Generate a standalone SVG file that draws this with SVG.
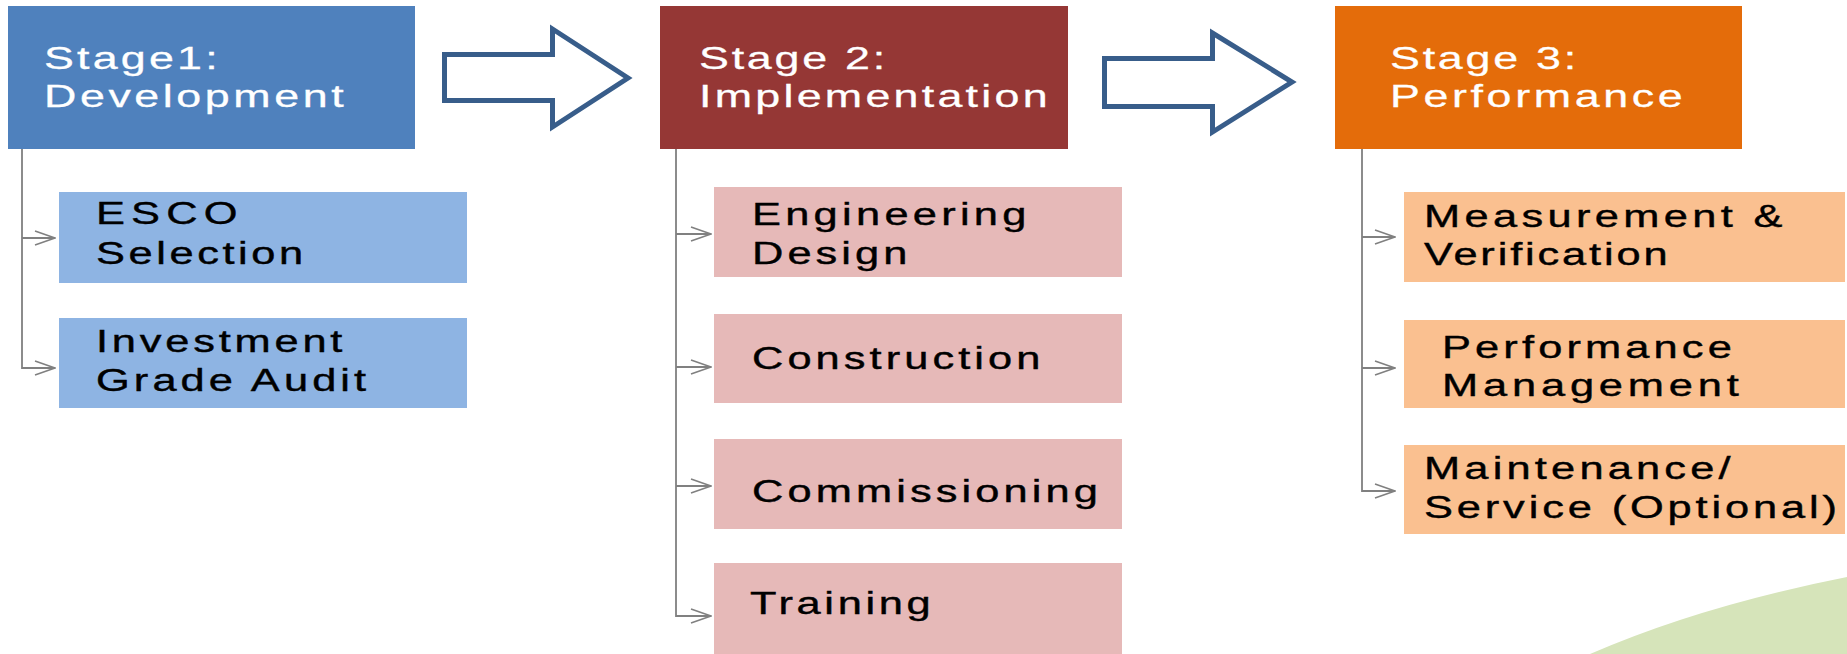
<svg xmlns="http://www.w3.org/2000/svg" width="1847" height="654" viewBox="0 0 1847 654">
  <style>
    .stage-text { font-family: "Liberation Sans", Arial, sans-serif; font-size: 32px; fill: #FFFFFF; stroke: #FFFFFF; stroke-width: 0.3; }
    .task-text { font-family: "Liberation Sans", Arial, sans-serif; font-size: 31px; fill: #000000; stroke: #000000; stroke-width: 0.4; }
    .blue-task { fill: #8EB4E3; }
    .red-task { fill: #E6B9B8; }
    .orange-task { fill: #FAC090; }
    .branch { fill: none; stroke: #808080; stroke-width: 1.8; }
    .block-arrow { fill: #FFFFFF; stroke: #385D8A; stroke-width: 5; stroke-linejoin: miter; }
  </style>
  <defs>
    <marker id="chevron" viewBox="0 0 22 16" markerWidth="22" markerHeight="16" refX="21" refY="8" markerUnits="userSpaceOnUse" orient="auto">
      <path d="M1,1 L21,8 L1,15" fill="none" stroke="#808080" stroke-width="1.6"/>
    </marker>
  </defs>

  <!-- decorative swoosh in the lower right corner -->
  <path d="M1590,654 Q1700,606 1847,577 L1847,654 Z" fill="#D6E4BA"/>

  <!-- connectors: stage-to-stage block arrows and task branches -->
  <g id="connectors">
    <path class="block-arrow" d="M444.5,54.5 H552.5 V29 L628,78 L552.5,127 V100.5 H444.5 Z"/>
    <path class="block-arrow" d="M1104.5,58.5 H1212.5 V33 L1292,82 L1212.5,132 V106.5 H1104.5 Z"/>

    <path class="branch" d="M22,149 V368 H55" marker-end="url(#chevron)"/>
    <path class="branch" d="M22,238 H55" marker-end="url(#chevron)"/>

    <path class="branch" d="M676,149 V616 H711" marker-end="url(#chevron)"/>
    <path class="branch" d="M676,234 H711" marker-end="url(#chevron)"/>
    <path class="branch" d="M676,367 H711" marker-end="url(#chevron)"/>
    <path class="branch" d="M676,486 H711" marker-end="url(#chevron)"/>

    <path class="branch" d="M1362,149 V491 H1395" marker-end="url(#chevron)"/>
    <path class="branch" d="M1362,237 H1395" marker-end="url(#chevron)"/>
    <path class="branch" d="M1362,368 H1395" marker-end="url(#chevron)"/>
  </g>

  <!-- Stage 1 -->
  <g id="stage1">
    <rect x="8" y="6" width="407" height="143" fill="#4F81BD"/>
    <text class="stage-text" transform="matrix(1.4 0 0 1 44 69)" textLength="124" lengthAdjust="spacing">Stage1:</text>
    <text class="stage-text" transform="matrix(1.4 0 0 1 44 107)" textLength="214" lengthAdjust="spacing">Development</text>
  </g>
  <g id="esco-selection">
    <rect class="blue-task" x="59" y="192" width="408" height="91"/>
    <text class="task-text" transform="matrix(1.4 0 0 1 96 224)" textLength="101" lengthAdjust="spacing">ESCO</text>
    <text class="task-text" transform="matrix(1.4 0 0 1 96 264)" textLength="148" lengthAdjust="spacing">Selection</text>
  </g>
  <g id="investment-grade-audit">
    <rect class="blue-task" x="59" y="318" width="408" height="90"/>
    <text class="task-text" transform="matrix(1.4 0 0 1 96 352)" textLength="176" lengthAdjust="spacing">Investment</text>
    <text class="task-text" transform="matrix(1.4 0 0 1 96 391)" textLength="193" lengthAdjust="spacing">Grade Audit</text>
  </g>

  <!-- Stage 2 -->
  <g id="stage2">
    <rect x="660" y="6" width="408" height="143" fill="#953735"/>
    <text class="stage-text" transform="matrix(1.4 0 0 1 699 69)" textLength="133" lengthAdjust="spacing">Stage 2:</text>
    <text class="stage-text" transform="matrix(1.4 0 0 1 699 107)" textLength="249" lengthAdjust="spacing">Implementation</text>
  </g>
  <g id="engineering-design">
    <rect class="red-task" x="714" y="187" width="408" height="90"/>
    <text class="task-text" transform="matrix(1.4 0 0 1 752 225)" textLength="196" lengthAdjust="spacing">Engineering</text>
    <text class="task-text" transform="matrix(1.4 0 0 1 752 264)" textLength="111" lengthAdjust="spacing">Design</text>
  </g>
  <g id="construction">
    <rect class="red-task" x="714" y="314" width="408" height="89"/>
    <text class="task-text" transform="matrix(1.4 0 0 1 752 369)" textLength="206" lengthAdjust="spacing">Construction</text>
  </g>
  <g id="commissioning">
    <rect class="red-task" x="714" y="439" width="408" height="90"/>
    <text class="task-text" transform="matrix(1.4 0 0 1 752 502)" textLength="247" lengthAdjust="spacing">Commissioning</text>
  </g>
  <g id="training">
    <rect class="red-task" x="714" y="563" width="408" height="100"/>
    <text class="task-text" transform="matrix(1.4 0 0 1 750 614)" textLength="129" lengthAdjust="spacing">Training</text>
  </g>

  <!-- Stage 3 -->
  <g id="stage3">
    <rect x="1335" y="6" width="407" height="143" fill="#E46C0A"/>
    <text class="stage-text" transform="matrix(1.4 0 0 1 1390 69)" textLength="133" lengthAdjust="spacing">Stage 3:</text>
    <text class="stage-text" transform="matrix(1.4 0 0 1 1390 107)" textLength="209" lengthAdjust="spacing">Performance</text>
  </g>
  <g id="measurement-verification">
    <rect class="orange-task" x="1404" y="192" width="441" height="90"/>
    <text class="task-text" transform="matrix(1.4 0 0 1 1424 227)" textLength="256" lengthAdjust="spacing">Measurement &amp;</text>
    <text class="task-text" transform="matrix(1.4 0 0 1 1424 265)" textLength="174" lengthAdjust="spacing">Verification</text>
  </g>
  <g id="performance-management">
    <rect class="orange-task" x="1404" y="320" width="441" height="88"/>
    <text class="task-text" transform="matrix(1.4 0 0 1 1442 358)" textLength="207" lengthAdjust="spacing">Performance</text>
    <text class="task-text" transform="matrix(1.4 0 0 1 1442 396)" textLength="212" lengthAdjust="spacing">Management</text>
  </g>
  <g id="maintenance-service">
    <rect class="orange-task" x="1404" y="445" width="441" height="89"/>
    <text class="task-text" transform="matrix(1.4 0 0 1 1424 479)" textLength="219" lengthAdjust="spacing">Maintenance/</text>
    <text class="task-text" transform="matrix(1.4 0 0 1 1424 518)" textLength="295" lengthAdjust="spacing">Service (Optional)</text>
  </g>
</svg>
